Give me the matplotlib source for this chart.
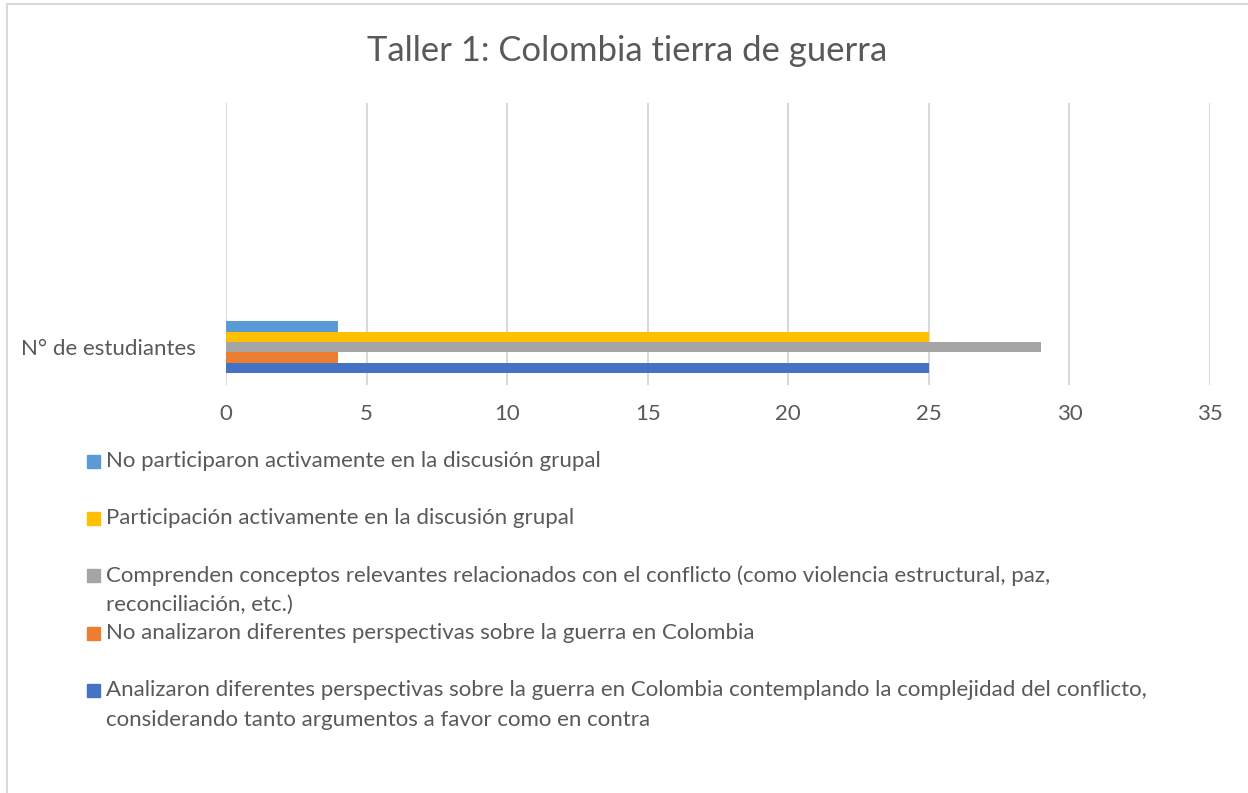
import matplotlib.pyplot as plt
from matplotlib.patches import Rectangle

plt.rcParams['font.family'] = ['Lato', 'DejaVu Sans']

categoria = 'N° de estudiantes'
series = [
    'Analizaron diferentes perspectivas sobre la guerra en Colombia contemplando la complejidad del conflicto,\nconsiderando tanto argumentos a favor como en contra',
    'No analizaron diferentes perspectivas sobre la guerra en Colombia',
    'Comprenden conceptos relevantes relacionados con el conflicto (como violencia estructural, paz,\nreconciliación, etc.)',
    'Participación activamente en la discusión grupal',
    'No participaron activamente en la discusión grupal',
]
valores = [25, 4, 29, 25, 4]
colores = ['#4472C4', '#ED7D31', '#A5A5A5', '#FFC000', '#5B9BD5']
xticks = [0, 5, 10, 15, 20, 25, 30, 35]

fig = plt.figure(figsize=(12.48, 7.93), dpi=100)
W, H = 1248, 793

# chart frame (only left and top edges visible in the picture)
fig.patches.append(Rectangle((6.5 / W, -0.1), 1.2, 1.1 - 4.5 / H, transform=fig.transFigure,
                             fill=False, edgecolor='#d9d9d9', linewidth=1.5))

ax = fig.add_axes([226 / W, 1 - 385 / H, (1210 - 226) / W, (385 - 103) / H])
n = len(valores)
for i in range(n):
    ax.barh(i - (n - 1) / 2, valores[i], height=1.0, color=colores[i], zorder=3)

ax.set_xlim(0, 35)
ax.set_ylim(-3.65, 23.5)
ax.set_xticks(xticks)
ax.set_xticklabels([str(t) for t in xticks])
ax.set_yticks([0])
ax.set_yticklabels([categoria])
ax.tick_params(axis='both', length=0, labelsize=16, colors='#595959')
ax.tick_params(axis='x', pad=14)
ax.tick_params(axis='y', pad=22)
ax.grid(axis='x', color='#d9d9d9', linewidth=1.5, zorder=0)
for s in ax.spines.values():
    s.set_visible(False)

fig.text(627 / W, 1 - 51 / H, 'Taller 1: Colombia tierra de guerra', ha='center', va='center',
         fontsize=24.9, color='#595959')

# legend, top entry first
ys = [461, 518, 575, 633, 690]
for k, i in enumerate(range(n - 1, -1, -1)):
    y = ys[k]
    fig.patches.append(Rectangle((87 / W, 1 - (y + 6.5) / H), 13 / W, 13 / H,
                                 transform=fig.transFigure, color=colores[i]))
    fig.text(106 / W, 1 - (y - 10) / H, series[i], ha='left', va='top', fontsize=16,
             color='#595959', linespacing=1.6)

fig.savefig('out.png', dpi=100)
